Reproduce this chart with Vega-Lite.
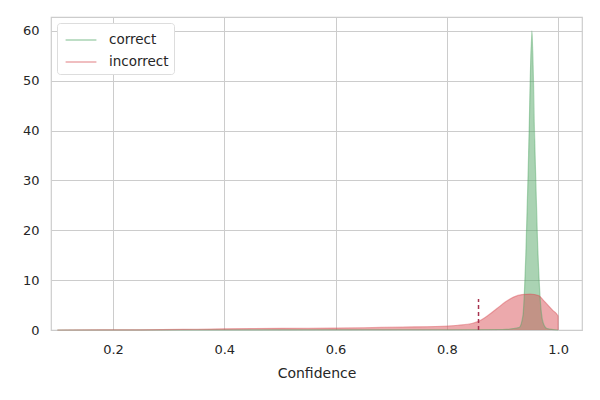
{
  "$schema": "https://vega.github.io/schema/vega-lite/v6.json",
  "width": 531,
  "height": 313,
  "autosize": {"type": "none"},
  "padding": {"left": 51, "top": 17, "right": 18, "bottom": 70},
  "background": "white",
  "config": {
    "font": "DejaVu Sans",
    "view": {"stroke": "#cccccc", "strokeWidth": 1.2},
    "axis": {"gridColor": "#cccccc", "domain": false, "ticks": false, "labelColor": "#262626", "titleColor": "#262626", "labelFontSize": 13, "titleFontSize": 14, "titleFontWeight": "normal", "labelPadding": 13},
    "legend": {"title": null, "orient": "none", "legendX": 6, "legendY": 6, "symbolType": "M-1.4,0H1.4", "symbolStrokeWidth": 1.5, "symbolSize": 484, "symbolOffset": 7, "labelFontSize": 13.5, "labelColor": "#262626", "labelOffset": 16, "fillColor": "white", "strokeColor": "#dddddd", "padding": 5, "cornerRadius": 3, "rowPadding": 3, "symbolOpacity": 0.5}
  },
  "datasets": {
    "kde": [
      {"x": 0.10, "d": 0.0, "label": "correct"},
      {"x": 0.80, "d": 0.05, "label": "correct"},
      {"x": 0.90, "d": 0.1, "label": "correct"},
      {"x": 0.93, "d": 0.5, "label": "correct"},
      {"x": 0.937, "d": 3, "label": "correct"},
      {"x": 0.942, "d": 15, "label": "correct"},
      {"x": 0.947, "d": 35, "label": "correct"},
      {"x": 0.953, "d": 60, "label": "correct"},
      {"x": 0.958, "d": 38, "label": "correct"},
      {"x": 0.963, "d": 18, "label": "correct"},
      {"x": 0.968, "d": 6, "label": "correct"},
      {"x": 0.973, "d": 1.5, "label": "correct"},
      {"x": 0.98, "d": 0.3, "label": "correct"},
      {"x": 1.0, "d": 0.0, "label": "correct"},
      {"x": 0.10, "d": 0.0, "label": "incorrect"},
      {"x": 0.25, "d": 0.03, "label": "incorrect"},
      {"x": 0.35, "d": 0.15, "label": "incorrect"},
      {"x": 0.45, "d": 0.3, "label": "incorrect"},
      {"x": 0.55, "d": 0.35, "label": "incorrect"},
      {"x": 0.65, "d": 0.45, "label": "incorrect"},
      {"x": 0.72, "d": 0.6, "label": "incorrect"},
      {"x": 0.78, "d": 0.7, "label": "incorrect"},
      {"x": 0.82, "d": 0.95, "label": "incorrect"},
      {"x": 0.845, "d": 1.3, "label": "incorrect"},
      {"x": 0.86, "d": 1.9, "label": "incorrect"},
      {"x": 0.875, "d": 3.0, "label": "incorrect"},
      {"x": 0.89, "d": 4.3, "label": "incorrect"},
      {"x": 0.905, "d": 5.6, "label": "incorrect"},
      {"x": 0.92, "d": 6.6, "label": "incorrect"},
      {"x": 0.935, "d": 7.1, "label": "incorrect"},
      {"x": 0.95, "d": 7.2, "label": "incorrect"},
      {"x": 0.965, "d": 6.9, "label": "incorrect"},
      {"x": 0.975, "d": 5.8, "label": "incorrect"},
      {"x": 0.99, "d": 4.0, "label": "incorrect"},
      {"x": 1.0, "d": 2.8, "label": "incorrect"},
      {"x": 1.0001, "d": 0.0, "label": "incorrect"}
    ],
    "means": [
      {"x": 0.857, "bottom": 0, "top": 6.2, "label": "incorrect"}
    ]
  },
  "layer": [
    {
      "data": {"name": "kde"},
      "mark": {"type": "area", "opacity": 0.5, "interpolate": "monotone"},
      "encoding": {
        "x": {"field": "x", "type": "quantitative", "scale": {"domain": [0.0885, 1.043], "nice": false, "zero": false}, "axis": {"values": [0.2, 0.4, 0.6, 0.8, 1.0], "format": ".1f", "title": "Confidence", "titlePadding": 10}},
        "y": {"field": "d", "type": "quantitative", "stack": null, "scale": {"domain": [0, 62.8], "nice": false}, "axis": {"values": [0, 10, 20, 30, 40, 50, 60], "title": null, "labelPadding": 12}},
        "color": {"field": "label", "type": "nominal", "scale": {"domain": ["correct", "incorrect"], "range": ["#55a868", "#d9545a"]}}
      }
    },
    {
      "data": {"name": "kde"},
      "mark": {"type": "line", "opacity": 0.45, "strokeWidth": 1.2, "interpolate": "monotone"},
      "encoding": {
        "x": {"field": "x", "type": "quantitative"},
        "y": {"field": "d", "type": "quantitative"},
        "color": {"field": "label", "type": "nominal"}
      }
    },
    {
      "data": {"name": "means"},
      "mark": {"type": "rule", "strokeDash": [4, 3], "strokeWidth": 1.5, "color": "#a8334f"},
      "encoding": {
        "x": {"field": "x", "type": "quantitative"},
        "y": {"field": "bottom", "type": "quantitative"},
        "y2": {"field": "top"}
      }
    }
  ]
}
